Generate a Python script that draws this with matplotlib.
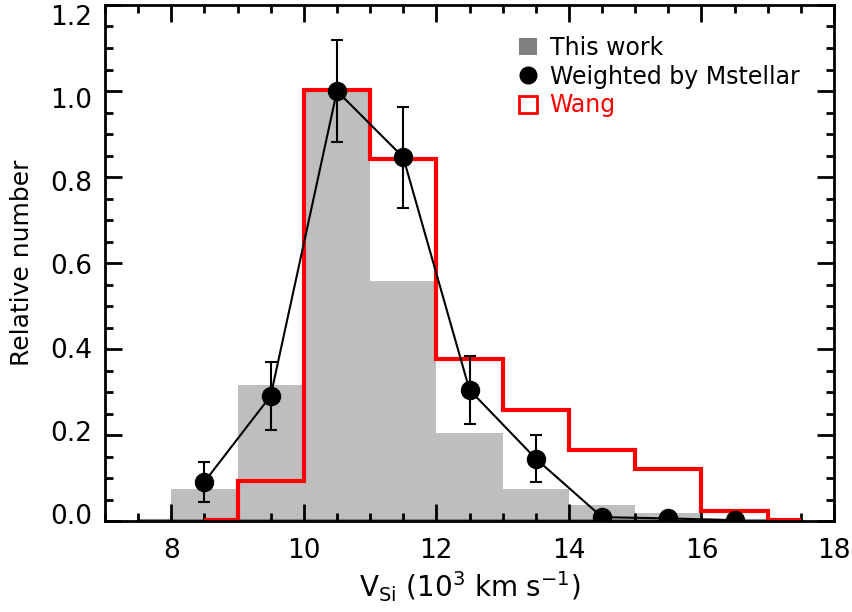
import matplotlib
matplotlib.use("Agg")
import matplotlib.pyplot as plt
import matplotlib.transforms as mtransforms
import numpy as np
from matplotlib.lines import Line2D
from matplotlib.patches import Patch
from matplotlib.ticker import MultipleLocator, FormatStrFormatter

plt.rcParams['font.family'] = ['DejaVu Sans']

# This work: histogram of Si velocities (bin edges in 10^3 km/s)
work_edges = [7.5, 8, 9, 10, 11, 12, 13, 14, 15, 16, 17]
work_values = [0.0, 0.075, 0.317, 1.0, 0.557, 0.205, 0.075, 0.037, 0.019, 0.004]

# Wang et al. sample
wang_edges = [8.5, 9, 10, 11, 12, 13, 14, 15, 16, 17, 17.5]
wang_values = [0.0, 0.091, 1.0, 0.839, 0.373, 0.256, 0.163, 0.117, 0.021, 0.0]

# Stellar-mass-weighted distribution
wt_x = [8.5, 9.5, 10.5, 11.5, 12.5, 13.5, 14.5, 15.5, 16.5]
wt_y = [0.091, 0.291, 1.0, 0.846, 0.305, 0.145, 0.009, 0.006, 0.002]
wt_err = [0.047, 0.079, 0.119, 0.117, 0.079, 0.055, 0.0, 0.0, 0.0]

fig = plt.figure(figsize=(8.52, 6.12), dpi=100)
ax = fig.add_axes([105 / 852, 1 - 521 / 612, (834 - 105) / 852, (521 - 5) / 612])

# grey filled histogram
we = np.array(work_edges)
wv = np.array(work_values)
ax.stairs(wv, we, fill=True, color='#bebebe', lw=0, zorder=1)
ax.plot([we[0], we[-1]], [0.002, 0.002], color='#808080', lw=1.5, zorder=1.5)

# red step outline
ax.stairs(np.array(wang_values) + 0.003, wang_edges, color='red', lw=3,
          baseline=None, zorder=2)

# weighted points with error bars
ax.plot(wt_x, wt_y, color='black', lw=1.5, zorder=3)
ex = [x for x, e in zip(wt_x, wt_err) if e > 0]
ey = [y for y, e in zip(wt_y, wt_err) if e > 0]
ee = [e for e in wt_err if e > 0]
ax.errorbar(ex, ey, yerr=ee, fmt='none', ecolor='black', elinewidth=1.5,
            capsize=4, capthick=1.5, zorder=3)
ax.plot(wt_x, wt_y, 'o', color='black', ms=13, zorder=4)

ax.set_xlim(7, 18)
ax.set_ylim(0, 1.2)
ax.xaxis.set_major_locator(MultipleLocator(2))
ax.xaxis.set_minor_locator(MultipleLocator(0.5))
ax.yaxis.set_major_locator(MultipleLocator(0.2))
ax.yaxis.set_minor_locator(MultipleLocator(0.05))
ax.yaxis.set_major_formatter(FormatStrFormatter('%.1f'))

ax.tick_params(which='both', direction='in', top=True, right=True,
               width=2, labelsize=19, colors='black')
ax.tick_params(which='major', length=12)
ax.tick_params(axis='x', which='major', pad=12)
ax.tick_params(axis='y', which='major', pad=9)
ax.tick_params(which='minor', length=6)
for s in ax.spines.values():
    s.set_linewidth(2)

# y tick labels sit slightly inside the axis span
fig.canvas.draw()
for lab in ax.get_yticklabels():
    v = lab.get_position()[1]
    dy = (-10 * v / 1.2 + 7 * (1 - v / 1.2)) / 100.0
    lab.set_transform(lab.get_transform() +
                      mtransforms.ScaledTranslation(0, dy, fig.dpi_scale_trans))

ax.set_xlabel(r'V$_{\rm Si}$ (10$^3$ km s$^{-1}$)', fontsize=20, labelpad=4)
ax.set_ylabel('Relative number', fontsize=18, labelpad=12)

handles = [
    Patch(facecolor='#808080', edgecolor='none'),
    Line2D([], [], marker='o', color='black', ls='none', ms=12),
    Patch(facecolor='none', edgecolor='red', lw=2),
]
leg = ax.legend(handles, ['This work', 'Weighted by Mstellar', 'Wang'],
                loc='upper left', bbox_to_anchor=(0.545, 0.972), frameon=False,
                fontsize=17, handlelength=0.75, handleheight=0.75,
                handletextpad=0.55, labelspacing=0.2, borderaxespad=0.3)
leg.get_texts()[2].set_color('red')

fig.savefig('out.png', dpi=100)
